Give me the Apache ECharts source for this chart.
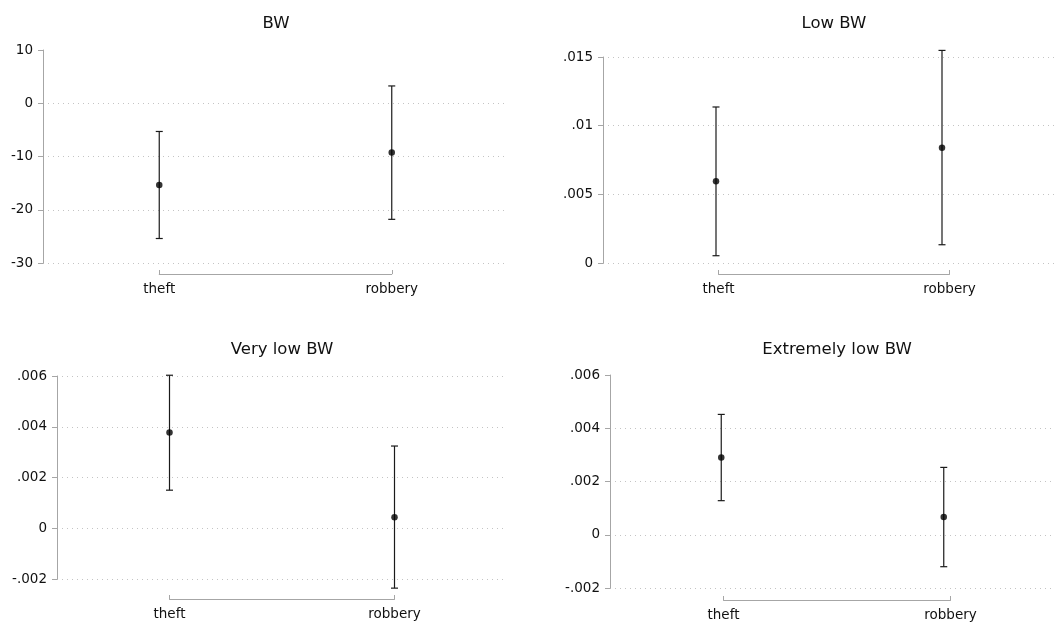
<!DOCTYPE html>
<html>
<head>
<meta charset="utf-8">
<script src="https://cdn.jsdelivr.net/npm/echarts@6/dist/echarts.min.js"></script>
<style>
html,body{margin:0;padding:0;background:#fff;}
#chart{width:1055px;height:623px;}
</style>
</head>
<body>
<div id="chart"></div>
<script>
// ---- data ----
var categories = ['theft', 'robbery'];
var titles = ['BW', 'Low BW', 'Very low BW', 'Extremely low BW'];

var bwEst = [-15.35, -9.25];
var bwLo  = [-25.4, -21.8];
var bwHi  = [-5.3, 3.25];

var lowEst = [0.00595, 0.00839];
var lowLo  = [0.00053, 0.00133];
var lowHi  = [0.01136, 0.01548];

var vlowEst = [0.00377, 0.000435];
var vlowLo  = [0.00150, -0.00236];
var vlowHi  = [0.00603, 0.00324];

var elowEst = [0.00290, 0.000665];
var elowLo  = [0.00128, -0.00120];
var elowHi  = [0.00452, 0.00253];

var yMin = [-30, 0, -0.002, -0.002];
var yMax = [10, 0.015, 0.006, 0.006];
var yStep = [10, 0.005, 0.002, 0.002];

// ---- layout (pixels) ----
var layout = [
  {left: 43,  top: 50,  width: 465, height: 213, bracket: 274, titleX: 276, titleY: 15},
  {left: 603, top: 57,  width: 462, height: 206, bracket: 274, titleX: 834, titleY: 15},
  {left: 57,  top: 376, width: 450, height: 203, bracket: 599, titleX: 282, titleY: 341},
  {left: 610, top: 375, width: 454, height: 213, bracket: 600, titleX: 837, titleY: 341}
];
var showMax = [false, true, true, false];

var est = [bwEst, lowEst, vlowEst, elowEst];
var lo = [bwLo, lowLo, vlowLo, elowLo];
var hi = [bwHi, lowHi, vlowHi, elowHi];

function fmt(v) {
  if (v === 0) return '0';
  var s = String(Math.round(v * 1e6) / 1e6);
  return s.replace(/^(-?)0\./, '$1.');
}

var FONT = 'DejaVu Sans';
var grids = [], xAxes = [], yAxes = [], series = [], titleOpts = [];

layout.forEach(function (L, i) {
  // main grid
  grids.push({left: L.left, top: L.top, width: L.width, height: L.height, containLabel: false});
  // bracket grid
  grids.push({left: L.left + L.width / 4, top: L.bracket - 1, width: L.width / 2, height: 1, containLabel: false});

  var gm = 2 * i, gb = 2 * i + 1;
  xAxes.push({
    gridIndex: gm, type: 'category', data: categories, boundaryGap: true,
    axisLine: {show: false}, axisTick: {show: false}, axisLabel: {show: false}, splitLine: {show: false}
  });
  xAxes.push({
    gridIndex: gb, type: 'category', data: categories, boundaryGap: false, position: 'bottom',
    axisLine: {show: true, lineStyle: {color: '#a6a6a6', width: 1}},
    axisTick: {show: true, inside: true, length: 4, lineStyle: {color: '#a6a6a6'}},
    axisLabel: {show: true, color: '#111', fontFamily: FONT, fontSize: 13.5, margin: 8},
    splitLine: {show: false}
  });
  yAxes.push({
    gridIndex: gm, type: 'value', min: yMin[i], max: yMax[i], interval: yStep[i],
    axisLine: {show: true, lineStyle: {color: '#a6a6a6', width: 1}},
    axisTick: {show: true, length: 5, lineStyle: {color: '#a6a6a6'}},
    axisLabel: {color: '#111', fontFamily: FONT, fontSize: 13.5, margin: 10, formatter: fmt},
    splitLine: {show: true, showMinLine: true, showMaxLine: showMax[i],
      lineStyle: {color: '#c4c4c4', width: 1, type: [1, 4]}}
  });
  yAxes.push({gridIndex: gb, type: 'value', show: false});

  var barData = categories.map(function (c, k) { return [k, lo[i][k], hi[i][k]]; });
  series.push({
    type: 'custom', xAxisIndex: 2 * i, yAxisIndex: 2 * i, clip: false,
    data: barData,
    renderItem: function (params, api) {
      var x = api.value(0);
      var pLo = api.coord([x, api.value(1)]);
      var pHi = api.coord([x, api.value(2)]);
      var cap = 3.5;
      var st = {stroke: '#1a1a1a', lineWidth: 1.2};
      return {
        type: 'group',
        children: [
          {type: 'line', shape: {x1: pLo[0], y1: pLo[1], x2: pHi[0], y2: pHi[1]}, style: st},
          {type: 'line', shape: {x1: pLo[0] - cap, y1: pLo[1], x2: pLo[0] + cap, y2: pLo[1]}, style: st},
          {type: 'line', shape: {x1: pHi[0] - cap, y1: pHi[1], x2: pHi[0] + cap, y2: pHi[1]}, style: st}
        ]
      };
    },
    silent: true, animation: false
  });
  series.push({
    type: 'scatter', xAxisIndex: 2 * i, yAxisIndex: 2 * i,
    data: categories.map(function (c, k) { return [k, est[i][k]]; }),
    symbol: 'circle', symbolSize: 6.5, itemStyle: {color: '#000'}, clip: false,
    silent: true, animation: false, z: 5
  });
  // empty series on bracket grid so axis renders
  series.push({
    type: 'line', xAxisIndex: 2 * i + 1, yAxisIndex: 2 * i + 1, data: [], silent: true
  });

  titleOpts.push({
    text: titles[i], left: L.titleX, top: L.titleY, textAlign: 'center', padding: 0,
    textStyle: {color: '#111', fontFamily: FONT, fontSize: 16.5, fontWeight: 'normal'}
  });
});

var chart = echarts.init(document.getElementById('chart'), null, {renderer: 'canvas'});
chart.setOption({
  backgroundColor: '#fff',
  animation: false,
  title: titleOpts,
  grid: grids,
  xAxis: xAxes,
  yAxis: yAxes,
  series: series
});
</script>
</body>
</html>
